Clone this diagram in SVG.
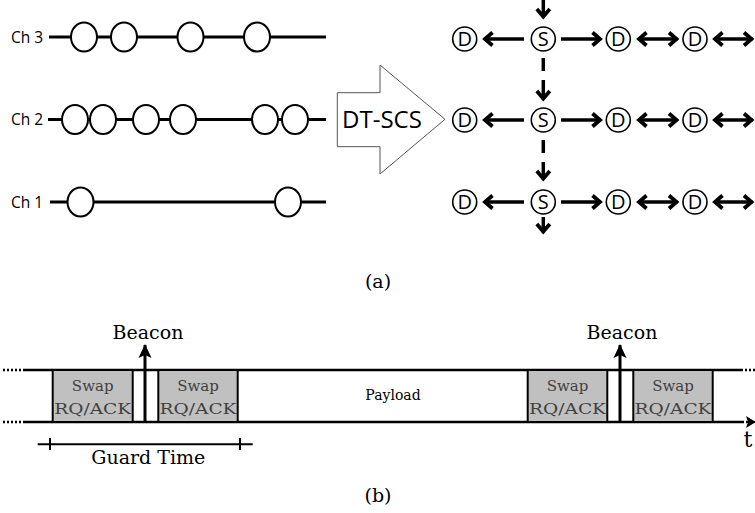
<svg xmlns="http://www.w3.org/2000/svg" width="755" height="513" viewBox="0 0 755 513">
<style>
.ch{stroke:#000;stroke-width:3;fill:none}
.slot{fill:#fff;stroke:#000;stroke-width:2}
.lbl{font-family:"Open Sans","Noto Sans",sans-serif;font-size:15.5px;fill:#000}
.node{fill:#fff;stroke:#000;stroke-width:1.6}
.nt{font-family:"Open Sans","Noto Sans",sans-serif;font-size:20px;fill:#000;text-anchor:middle}
.ar{stroke:#000;stroke-width:3.5;fill:none}
.serif{font-family:"DejaVu Serif","Liberation Serif",serif;fill:#000;text-anchor:middle}
.box{fill:#c0c0c0;stroke:#000;stroke-width:2}
.bt{font-family:"DejaVu Serif","Liberation Serif",serif;font-size:15px;fill:#404040;text-anchor:middle}
.tl{stroke:#000;stroke-width:2.5;fill:none}
.dot{stroke:#000;stroke-width:2.5;stroke-dasharray:2 2;fill:none}
</style>
<defs>
<marker id="ah" viewBox="0 0 14 18" refX="11" refY="9" markerWidth="14" markerHeight="18" markerUnits="userSpaceOnUse" orient="auto-start-reverse">
<path d="M2.5,2.5 L10,9 L2.5,15.5" fill="none" stroke="#000" stroke-width="3.8" stroke-linejoin="miter" stroke-miterlimit="10"/>
</marker>
<marker id="bh" viewBox="0 0 14 14" refX="13" refY="7" markerWidth="14" markerHeight="14" markerUnits="userSpaceOnUse" orient="auto">
<path d="M0,0.5 L14,7 L0,13.5 L3,7 Z" fill="#000"/>
</marker>
<marker id="th" viewBox="0 0 10 12" refX="9" refY="6" markerWidth="10" markerHeight="12" markerUnits="userSpaceOnUse" orient="auto">
<path d="M0,0 L10,6 L0,12 L2,6 Z" fill="#000"/>
</marker>
</defs>

<!-- (a) channels -->
<g id="ch3">
<text class="lbl" x="11" y="42.5">Ch 3</text>
<line class="ch" x1="49" y1="37" x2="326" y2="37"/>
<ellipse class="slot" cx="84" cy="37" rx="13" ry="14.5"/>
<ellipse class="slot" cx="124" cy="37" rx="13" ry="14.5"/>
<ellipse class="slot" cx="190.5" cy="37" rx="13" ry="14.5"/>
<ellipse class="slot" cx="257" cy="37" rx="13" ry="14.5"/>
</g>
<g id="ch2">
<text class="lbl" x="11" y="125">Ch 2</text>
<line class="ch" x1="48" y1="119.5" x2="326" y2="119.5"/>
<ellipse class="slot" cx="75" cy="119.5" rx="13" ry="14.5"/>
<ellipse class="slot" cx="103" cy="119.5" rx="13" ry="14.5"/>
<ellipse class="slot" cx="146" cy="119.5" rx="13" ry="14.5"/>
<ellipse class="slot" cx="183" cy="119.5" rx="13" ry="14.5"/>
<ellipse class="slot" cx="265" cy="119.5" rx="13" ry="14.5"/>
<ellipse class="slot" cx="295" cy="119.5" rx="13" ry="14.5"/>
</g>
<g id="ch1">
<text class="lbl" x="11" y="207.5">Ch 1</text>
<line class="ch" x1="50" y1="202" x2="326" y2="202"/>
<ellipse class="slot" cx="80.5" cy="202" rx="13" ry="14.5"/>
<ellipse class="slot" cx="288" cy="202" rx="13" ry="14.5"/>
</g>

<g id="dtscs">
<polygon points="337.3,92.7 380,92.7 380,65 445,119.3 380,174 380,146.7 337.3,146.7" fill="#fff" stroke="#555" stroke-width="1"/>
<text x="382" y="128" font-family="'Open Sans','Noto Sans',sans-serif" font-size="24" text-anchor="middle" fill="#000">DT-SCS</text>
</g>

<!-- nodes -->
<g id="r1">
<g id="d11"><circle class="node" cx="464.7" cy="39" r="12"/><text class="nt" x="464.7" y="46">D</text></g>
<g id="s1"><circle class="node" cx="543.3" cy="39" r="12"/><text class="nt" x="543.3" y="46">S</text></g>
<g id="d12"><circle class="node" cx="618.3" cy="39" r="12"/><text class="nt" x="618.3" y="46">D</text></g>
<g id="d13"><circle class="node" cx="695" cy="39" r="12"/><text class="nt" x="695" y="46">D</text></g>
</g>
<g id="r2">
<g id="d21"><circle class="node" cx="464.7" cy="120" r="12"/><text class="nt" x="464.7" y="127">D</text></g>
<g id="s2"><circle class="node" cx="543.3" cy="120" r="12"/><text class="nt" x="543.3" y="127">S</text></g>
<g id="d22"><circle class="node" cx="618.3" cy="120" r="12"/><text class="nt" x="618.3" y="127">D</text></g>
<g id="d23"><circle class="node" cx="695" cy="120" r="12"/><text class="nt" x="695" y="127">D</text></g>
</g>
<g id="r3">
<g id="d31"><circle class="node" cx="464.7" cy="202" r="12"/><text class="nt" x="464.7" y="209">D</text></g>
<g id="s3"><circle class="node" cx="543.3" cy="202" r="12"/><text class="nt" x="543.3" y="209">S</text></g>
<g id="d32"><circle class="node" cx="618.3" cy="202" r="12"/><text class="nt" x="618.3" y="209">D</text></g>
<g id="d33"><circle class="node" cx="695" cy="202" r="12"/><text class="nt" x="695" y="209">D</text></g>
</g>

<g id="connectors">
<!-- row arrows -->
<line class="ar" x1="524" y1="39" x2="484" y2="39" marker-end="url(#ah)"/>
<line class="ar" x1="561" y1="39" x2="601" y2="39" marker-end="url(#ah)"/>
<line class="ar" x1="638" y1="39" x2="677.5" y2="39" marker-start="url(#ah)" marker-end="url(#ah)"/>
<line class="ar" x1="714" y1="39" x2="752.5" y2="39" marker-start="url(#ah)" marker-end="url(#ah)"/>
<line class="ar" x1="524" y1="120" x2="484" y2="120" marker-end="url(#ah)"/>
<line class="ar" x1="561" y1="120" x2="601" y2="120" marker-end="url(#ah)"/>
<line class="ar" x1="638" y1="120" x2="677.5" y2="120" marker-start="url(#ah)" marker-end="url(#ah)"/>
<line class="ar" x1="714" y1="120" x2="752.5" y2="120" marker-start="url(#ah)" marker-end="url(#ah)"/>
<line class="ar" x1="524" y1="202" x2="484" y2="202" marker-end="url(#ah)"/>
<line class="ar" x1="561" y1="202" x2="601" y2="202" marker-end="url(#ah)"/>
<line class="ar" x1="638" y1="202" x2="677.5" y2="202" marker-start="url(#ah)" marker-end="url(#ah)"/>
<line class="ar" x1="714" y1="202" x2="752.5" y2="202" marker-start="url(#ah)" marker-end="url(#ah)"/>
<!-- vertical -->
<line class="ar" x1="543.3" y1="0" x2="543.3" y2="17.5" marker-end="url(#ah)"/>
<line class="ar" x1="543.3" y1="58" x2="543.3" y2="71"/>
<line class="ar" x1="543.3" y1="80" x2="543.3" y2="99.5" marker-end="url(#ah)"/>
<line class="ar" x1="543.3" y1="140" x2="543.3" y2="153"/>
<line class="ar" x1="543.3" y1="162" x2="543.3" y2="179.5" marker-end="url(#ah)"/>
<line class="ar" x1="543.3" y1="217" x2="543.3" y2="232.5" marker-end="url(#ah)"/>
</g>

<text class="serif" x="378" y="288" font-size="19">(a)</text>

<!-- (b) timeline -->
<g id="timeline">
<line class="dot" x1="3" y1="370" x2="23" y2="370"/>
<line class="dot" x1="3" y1="422" x2="23" y2="422"/>
<line class="tl" x1="23" y1="370" x2="741" y2="370"/>
<line class="tl" x1="23" y1="422" x2="742" y2="422"/>
<line class="dot" x1="741" y1="370" x2="755" y2="370"/>
<line class="dot" x1="742" y1="422" x2="747" y2="422"/>
<line x1="746" y1="422" x2="755" y2="422" stroke="#000" stroke-width="2" marker-end="url(#th)"/>
<text class="serif" x="748" y="447" font-size="22">t</text>
</g>
<g id="swap1">
<rect class="box" x="52.7" y="370" width="80" height="52"/>
<text class="bt" x="92.7" y="391">Swap</text>
<text class="bt" x="92.7" y="414" textLength="77" lengthAdjust="spacingAndGlyphs">RQ/ACK</text>
</g>
<g id="swap2">
<rect class="box" x="158.3" y="370" width="79.4" height="52"/>
<text class="bt" x="198" y="391">Swap</text>
<text class="bt" x="198" y="414" textLength="77" lengthAdjust="spacingAndGlyphs">RQ/ACK</text>
</g>
<g id="payload">
<text class="serif" x="393" y="400" font-size="14" fill="#333">Payload</text>
</g>
<g id="swap3">
<rect class="box" x="527.7" y="370" width="79.6" height="52"/>
<text class="bt" x="567.5" y="391">Swap</text>
<text class="bt" x="567.5" y="414" textLength="77" lengthAdjust="spacingAndGlyphs">RQ/ACK</text>
</g>
<g id="swap4">
<rect class="box" x="633.3" y="370" width="79.4" height="52"/>
<text class="bt" x="673" y="391">Swap</text>
<text class="bt" x="673" y="414" textLength="77" lengthAdjust="spacingAndGlyphs">RQ/ACK</text>
</g>
<g id="beacon1">
<line x1="145" y1="422" x2="145" y2="345" stroke="#000" stroke-width="3" marker-end="url(#bh)"/>
<text class="serif" x="148" y="339" font-size="19">Beacon</text>
</g>
<g id="beacon2">
<line x1="620" y1="422" x2="620" y2="345" stroke="#000" stroke-width="3" marker-end="url(#bh)"/>
<text class="serif" x="622" y="339" font-size="19">Beacon</text>
</g>
<g id="guard">
<line x1="37.7" y1="444.3" x2="252.7" y2="444.3" stroke="#000" stroke-width="2"/>
<line x1="50" y1="438" x2="50" y2="450" stroke="#000" stroke-width="2"/>
<line x1="240" y1="438" x2="240" y2="450" stroke="#000" stroke-width="2"/>
<text class="serif" x="148.3" y="464" font-size="19">Guard Time</text>
</g>
<text class="serif" x="378" y="502" font-size="19">(b)</text>
</svg>
